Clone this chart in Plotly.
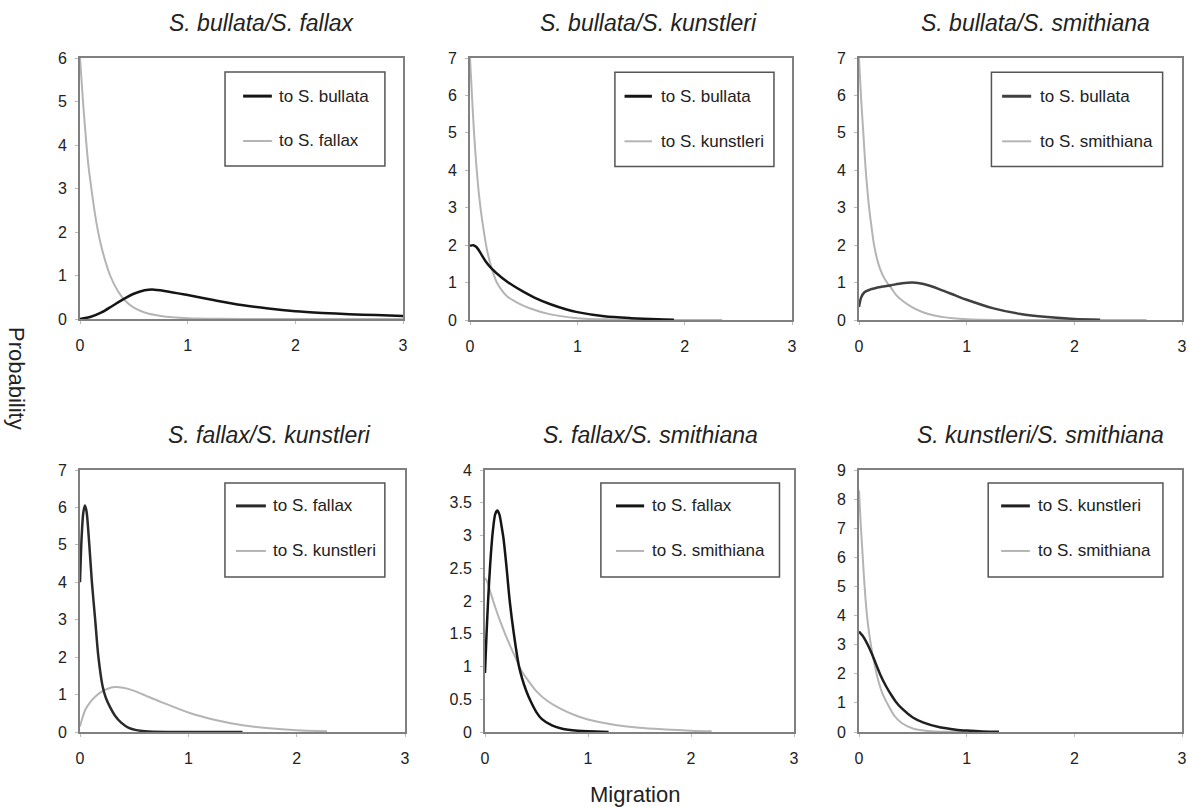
import plotly.graph_objects as go

W, H = 1189, 807
FONT = "Liberation Sans, Arial, sans-serif"

titles = ["S. bullata/S. fallax", "S. bullata/S. kunstleri", "S. bullata/S. smithiana",
          "S. fallax/S. kunstleri", "S. fallax/S. smithiana", "S. kunstleri/S. smithiana"]
names_dark = ["to S. bullata", "to S. bullata", "to S. bullata",
              "to S. fallax", "to S. fallax", "to S. kunstleri"]
names_light = ["to S. fallax", "to S. kunstleri", "to S. smithiana",
               "to S. kunstleri", "to S. smithiana", "to S. smithiana"]
y_max = [6, 7, 7, 7, 4, 9]
y_dtick = [1, 1, 1, 1, 0.5, 1]
x_ticks = [0, 1, 2, 3]

# panel 1
p1_dark_x = [0, 0.1, 0.2, 0.3, 0.4, 0.5, 0.6, 0.67, 0.8, 1.0, 1.25, 1.5, 1.75, 2.0, 2.25, 2.5, 2.75, 3.0]
p1_dark_y = [0, 0.05, 0.15, 0.3, 0.45, 0.58, 0.66, 0.68, 0.64, 0.55, 0.43, 0.32, 0.24, 0.18, 0.14, 0.11, 0.09, 0.07]
p1_light_x = [0, 0.025, 0.05, 0.075, 0.1, 0.15, 0.2, 0.28, 0.35, 0.42, 0.5, 0.6, 0.7, 0.8, 1.0, 1.3, 1.7, 2.2, 3.0]
p1_light_y = [6.0, 5.1, 4.3, 3.6, 3.1, 2.25, 1.65, 1.0, 0.65, 0.42, 0.26, 0.15, 0.09, 0.05, 0.02, 0.005, 0.0, 0.0, 0.0]
# panel 2
p2_dark_x = [0, 0.03, 0.06, 0.1, 0.15, 0.2, 0.3, 0.4, 0.5, 0.6, 0.75, 0.9, 1.0, 1.25, 1.5, 1.75, 1.9]
p2_dark_y = [1.98, 2.0, 1.95, 1.78, 1.55, 1.38, 1.12, 0.92, 0.75, 0.6, 0.42, 0.28, 0.21, 0.1, 0.05, 0.02, 0.01]
p2_light_x = [0, 0.02, 0.04, 0.06, 0.08, 0.1, 0.13, 0.16, 0.2, 0.25, 0.3, 0.35, 0.43, 0.55, 0.75, 1.0, 1.3, 1.7, 2.35]
p2_light_y = [7.0, 5.9, 4.9, 4.1, 3.45, 2.95, 2.35, 1.85, 1.4, 1.0, 0.78, 0.62, 0.48, 0.32, 0.15, 0.05, 0.015, 0.0, 0.0]
# panel 3
p3_dark_x = [0, 0.02, 0.05, 0.1, 0.15, 0.2, 0.3, 0.4, 0.5, 0.6, 0.75, 0.9, 1.0, 1.25, 1.5, 1.75, 2.0, 2.24]
p3_dark_y = [0.35, 0.6, 0.74, 0.81, 0.85, 0.88, 0.93, 0.98, 1.0, 0.96, 0.82, 0.65, 0.54, 0.31, 0.16, 0.08, 0.03, 0.01]
p3_light_x = [0, 0.02, 0.04, 0.06, 0.09, 0.12, 0.14, 0.18, 0.22, 0.26, 0.3, 0.35, 0.41, 0.5, 0.6, 0.7, 0.8, 1.0, 1.4, 2.0, 2.67]
p3_light_y = [7.0, 5.9, 5.0, 4.1, 3.1, 2.4, 2.0, 1.5, 1.2, 1.0, 0.85, 0.65, 0.5, 0.33, 0.2, 0.12, 0.07, 0.02, 0.0, 0.0, 0.0]
# panel 4
p4_dark_x = [0, 0.015, 0.03, 0.045, 0.06, 0.086, 0.11, 0.14, 0.17, 0.21, 0.24, 0.28, 0.32, 0.38, 0.45, 0.52, 0.6, 0.8, 1.2, 1.5]
p4_dark_y = [4.0, 5.2, 5.85, 6.05, 5.9, 5.0, 4.0, 3.0, 2.0, 1.2, 0.9, 0.65, 0.45, 0.25, 0.11, 0.05, 0.02, 0.0, 0.0, 0.0]
p4_light_x = [0, 0.025, 0.05, 0.1, 0.15, 0.2, 0.25, 0.32, 0.4, 0.5, 0.6, 0.75, 1.0, 1.25, 1.5, 1.75, 2.0, 2.28]
p4_light_y = [0.15, 0.4, 0.6, 0.82, 0.97, 1.08, 1.15, 1.2, 1.18, 1.1, 0.98, 0.8, 0.52, 0.32, 0.18, 0.1, 0.05, 0.02]
# panel 5
p5_dark_x = [0, 0.015, 0.03, 0.05, 0.075, 0.1, 0.12, 0.14, 0.16, 0.18, 0.21, 0.24, 0.28, 0.33, 0.36, 0.4, 0.44, 0.5, 0.55, 0.65, 0.75, 0.9, 1.0, 1.2]
p5_dark_y = [0.9, 1.5, 2.0, 2.55, 3.05, 3.33, 3.38, 3.32, 3.15, 2.95, 2.5, 2.0, 1.5, 1.0, 0.82, 0.63, 0.48, 0.3, 0.2, 0.1, 0.05, 0.02, 0.01, 0.0]
p5_light_x = [0, 0.02, 0.05, 0.1, 0.15, 0.2, 0.3, 0.36, 0.45, 0.5, 0.6, 0.75, 0.9, 1.0, 1.25, 1.5, 1.75, 2.0, 2.2]
p5_light_y = [2.35, 2.3, 2.15, 1.9, 1.68, 1.48, 1.12, 0.92, 0.72, 0.62, 0.48, 0.34, 0.24, 0.19, 0.11, 0.065, 0.04, 0.02, 0.01]
# panel 6
p6_dark_x = [0, 0.03, 0.06, 0.1, 0.14, 0.17, 0.2, 0.25, 0.3, 0.34, 0.4, 0.5, 0.6, 0.75, 0.9, 1.0, 1.15, 1.3]
p6_dark_y = [3.45, 3.32, 3.15, 2.85, 2.5, 2.22, 1.95, 1.58, 1.27, 1.05, 0.8, 0.5, 0.32, 0.16, 0.08, 0.05, 0.02, 0.01]
p6_light_x = [0, 0.015, 0.03, 0.045, 0.06, 0.08, 0.11, 0.14, 0.18, 0.22, 0.26, 0.33, 0.4, 0.5, 0.6, 0.7, 0.85, 1.0]
p6_light_y = [8.3, 7.2, 6.3, 5.4, 4.6, 3.8, 3.0, 2.4, 1.75, 1.3, 1.0, 0.55, 0.3, 0.12, 0.05, 0.02, 0.005, 0.0]

dark_x = [p1_dark_x, p2_dark_x, p3_dark_x, p4_dark_x, p5_dark_x, p6_dark_x]
dark_y = [p1_dark_y, p2_dark_y, p3_dark_y, p4_dark_y, p5_dark_y, p6_dark_y]
light_x = [p1_light_x, p2_light_x, p3_light_x, p4_light_x, p5_light_x, p6_light_x]
light_y = [p1_light_y, p2_light_y, p3_light_y, p4_light_y, p5_light_y, p6_light_y]

# layout (screen pixel boxes of plot areas: left, right, top, bottom)
boxes = [(80, 403, 58, 319), (470, 792, 58, 320), (859, 1182, 58, 320),
         (80, 405, 470, 732), (485, 794, 470, 732), (859, 1182, 470, 732)]
title_pos = [(262, 23), (648, 23), (1035, 23), (269, 435), (650, 435), (1040, 435)]
# legend geometry in domain fractions: box x0,x1,y0,y1 ; line x0,x1 ; text x ; rows y
leg = [
    (0.449, 0.944, 0.586, 0.946, 0.505, 0.594, 0.61, 0.854, 0.682),
    (0.450, 0.944, 0.586, 0.946, 0.480, 0.565, 0.587, 0.854, 0.682),
    (0.410, 0.940, 0.586, 0.946, 0.443, 0.533, 0.554, 0.854, 0.682),
    (0.446, 0.938, 0.592, 0.950, 0.480, 0.572, 0.588, 0.863, 0.691),
    (0.375, 0.953, 0.592, 0.950, 0.424, 0.515, 0.534, 0.863, 0.691),
    (0.400, 0.941, 0.592, 0.950, 0.440, 0.529, 0.548, 0.863, 0.691),
]
dark_colors = ["#151515", "#151515", "#404040", "#2a2a2a", "#151515", "#202020"]
LIGHT = "#b4b4b4"


def px_x(v):
    return v / W


def px_y(v):
    return 1 - v / H


fig = go.Figure()
layout = dict(width=W, height=H, margin=dict(l=0, r=0, t=0, b=0, autoexpand=False),
              paper_bgcolor="white", plot_bgcolor="white", showlegend=False,
              font=dict(family=FONT, color="#222"))
shapes, annos = [], []
for i in range(6):
    k = "" if i == 0 else str(i + 1)
    l, r, t, b = boxes[i]
    xa = dict(domain=[px_x(l), px_x(r)], range=[0, 3], tickvals=x_ticks, showgrid=False, zeroline=False,
              showline=True, linecolor="#808080", linewidth=2, mirror=True, automargin=False,
              ticks="outside", ticklen=3, tickcolor="#bbbbbb", tickwidth=1,
              tickfont=dict(size=16, color="#222"), ticklabelstandoff=8,
              anchor="y" + k, fixedrange=True)
    ya = dict(domain=[px_y(b), px_y(t)], range=[0, y_max[i]], dtick=y_dtick[i], showgrid=False,
              zeroline=False, showline=True, linecolor="#808080", linewidth=2, mirror=True,
              automargin=False, ticks="outside", ticklen=3, tickcolor="#bbbbbb", tickwidth=1,
              tickfont=dict(size=16, color="#222"), ticklabelstandoff=5,
              anchor="x" + k, fixedrange=True)
    layout["xaxis" + k] = xa
    layout["yaxis" + k] = ya
    fig.add_trace(go.Scatter(x=light_x[i], y=light_y[i], mode="lines", name=names_light[i],
                             line=dict(color=LIGHT, width=2, shape="spline", smoothing=0.8),
                             xaxis="x" + k, yaxis="y" + k, cliponaxis=True, hoverinfo="skip"))
    fig.add_trace(go.Scatter(x=dark_x[i], y=dark_y[i], mode="lines", name=names_dark[i],
                             line=dict(color=dark_colors[i], width=2.5, shape="spline", smoothing=0.8),
                             xaxis="x" + k, yaxis="y" + k, cliponaxis=True, hoverinfo="skip"))
    bx0, bx1, by0, by1, lx0, lx1, tx, ry1, ry2 = leg[i]
    xr, yr = "x" + k + " domain", "y" + k + " domain"
    shapes.append(dict(type="rect", xref=xr, yref=yr, x0=bx0, x1=bx1, y0=by0, y1=by1,
                       line=dict(color="#555", width=1.5), fillcolor="white"))
    shapes.append(dict(type="line", xref=xr, yref=yr, x0=lx0, x1=lx1, y0=ry1, y1=ry1,
                       line=dict(color=dark_colors[i], width=3)))
    shapes.append(dict(type="line", xref=xr, yref=yr, x0=lx0, x1=lx1, y0=ry2, y1=ry2,
                       line=dict(color=LIGHT, width=2)))
    annos.append(dict(text=names_dark[i], xref=xr, yref=yr, x=tx, y=ry1, xanchor="left",
                      yanchor="middle", showarrow=False, font=dict(size=17, color="#222")))
    annos.append(dict(text=names_light[i], xref=xr, yref=yr, x=tx, y=ry2, xanchor="left",
                      yanchor="middle", showarrow=False, font=dict(size=17, color="#222")))
    tx_, ty_ = title_pos[i]
    annos.append(dict(text="<i>" + titles[i] + "</i>", xref="paper", yref="paper",
                      x=px_x(tx_), y=px_y(ty_), xanchor="center", yanchor="middle",
                      showarrow=False, font=dict(size=23, color="#222")))

annos.append(dict(text="Probability", xref="paper", yref="paper", x=px_x(16), y=px_y(378),
                  textangle=90, showarrow=False, xanchor="center", yanchor="middle",
                  font=dict(size=22, color="#222")))
annos.append(dict(text="Migration", xref="paper", yref="paper", x=px_x(635), y=px_y(794),
                  showarrow=False, xanchor="center", yanchor="middle",
                  font=dict(size=22, color="#222")))
layout["shapes"] = shapes
layout["annotations"] = annos
fig.update_layout(**layout)
# remove the browser's default 8 px page margin so the figure fills the window exactly
fig.write_html("out.html", config={"displayModeBar": False, "staticPlot": True},
               post_script="document.body.style.margin='0';document.body.style.overflow='hidden';")
